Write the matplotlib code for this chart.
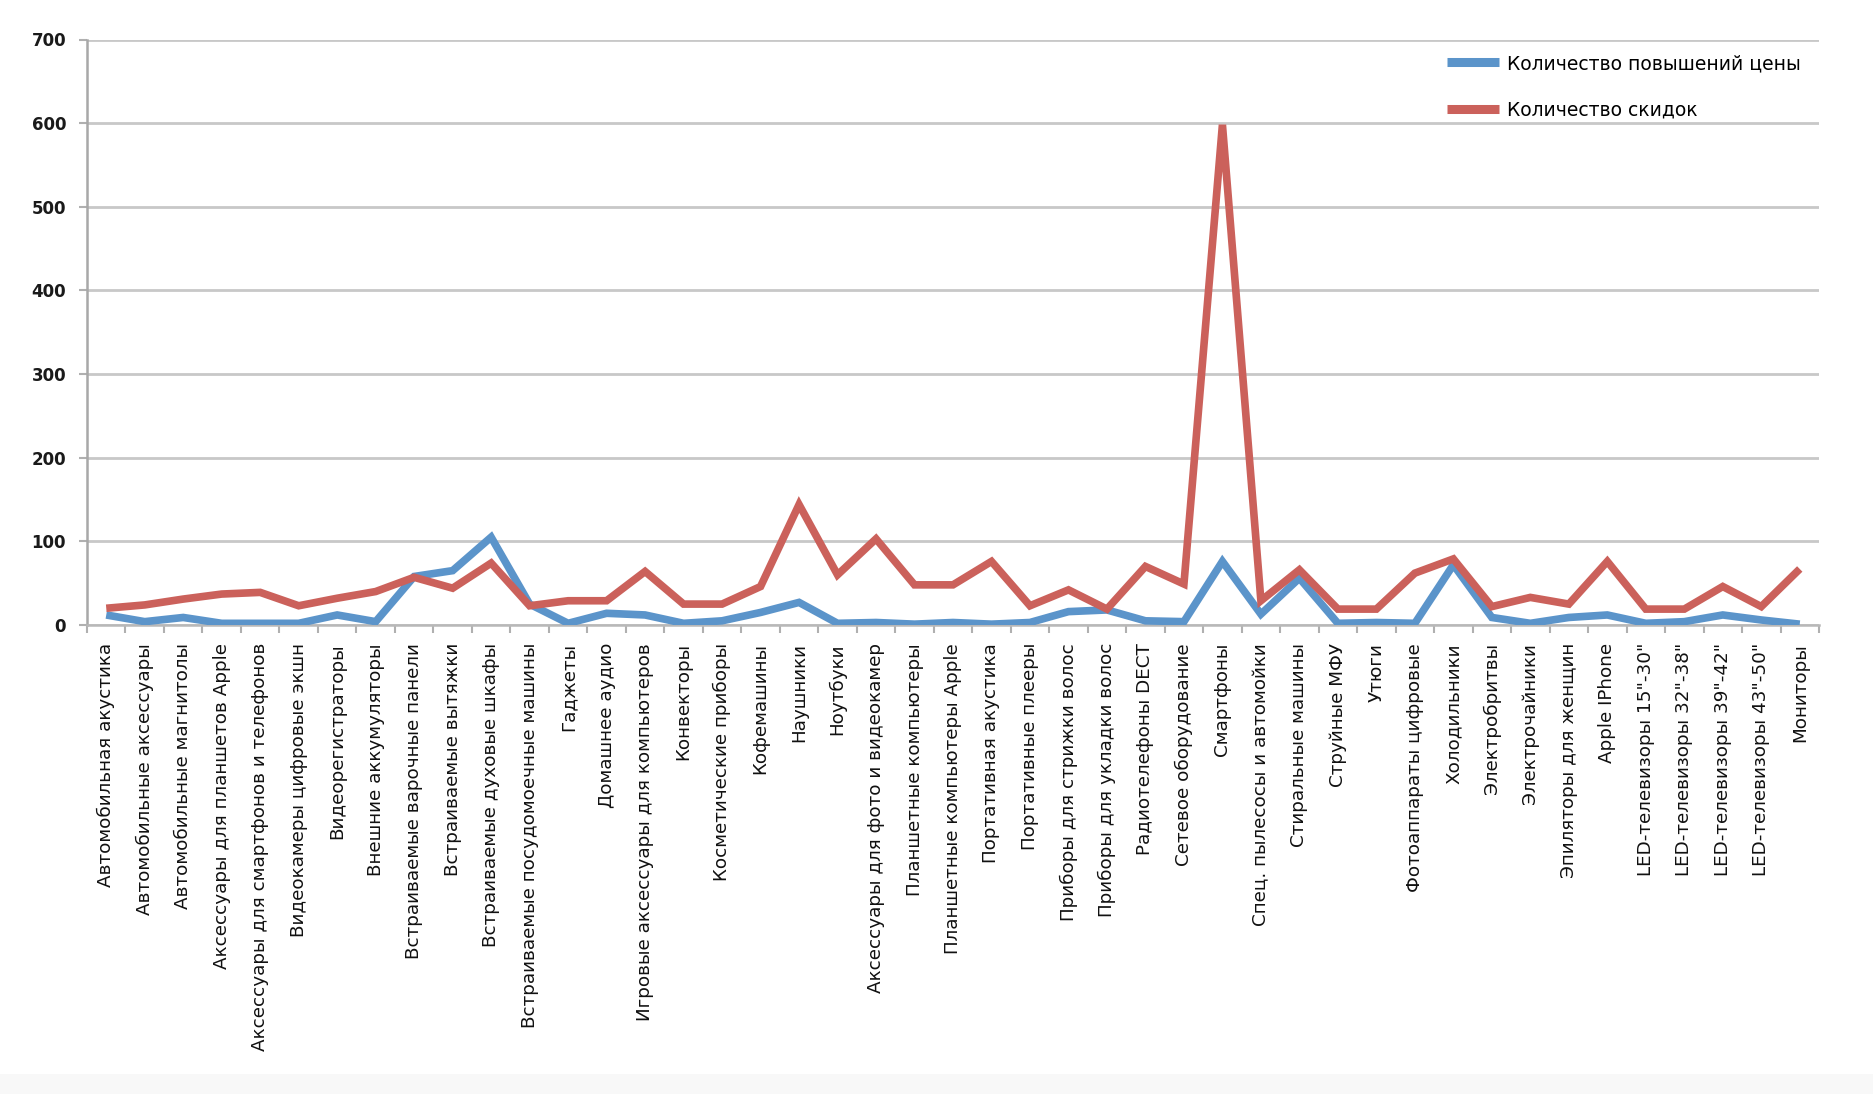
import matplotlib
matplotlib.use("Agg")
import matplotlib.pyplot as plt
from matplotlib.patches import Rectangle

categories = [
    "Автомобильная акустика",
    "Автомобильные аксессуары",
    "Автомобильные магнитолы",
    "Аксессуары для планшетов Apple",
    "Аксессуары для смартфонов и телефонов",
    "Видеокамеры цифровые экшн",
    "Видеорегистраторы",
    "Внешние аккумуляторы",
    "Встраиваемые варочные панели",
    "Встраиваемые вытяжки",
    "Встраиваемые духовые шкафы",
    "Встраиваемые посудомоечные машины",
    "Гаджеты",
    "Домашнее аудио",
    "Игровые аксессуары для компьютеров",
    "Конвекторы",
    "Косметические приборы",
    "Кофемашины",
    "Наушники",
    "Ноутбуки",
    "Аксессуары для фото и видеокамер",
    "Планшетные компьютеры",
    "Планшетные компьютеры Apple",
    "Портативная акустика",
    "Портативные плееры",
    "Приборы для стрижки волос",
    "Приборы для укладки волос",
    "Радиотелефоны DECT",
    "Сетевое оборудование",
    "Смартфоны",
    "Спец. пылесосы и автомойки",
    "Стиральные машины",
    "Струйные МФУ",
    "Утюги",
    "Фотоаппараты цифровые",
    "Холодильники",
    "Электробритвы",
    "Электрочайники",
    "Эпиляторы для женщин",
    "Apple IPhone",
    "LED-телевизоры 15\"-30\"",
    "LED-телевизоры 32\"-38\"",
    "LED-телевизоры 39\"-42\"",
    "LED-телевизоры 43\"-50\"",
    "Мониторы",
]

price_increases = [12, 4, 9, 2, 2, 2, 12, 4, 58, 65, 105, 25, 2, 14, 12, 2, 5, 15, 27, 2,
                   3, 1, 3, 1, 3, 16, 18, 5, 4, 76, 13, 56, 2, 3, 2, 72, 9, 2, 9, 12,
                   2, 4, 12, 6, 1]
discounts = [20, 24, 31, 37, 39, 23, 32, 40, 57, 44, 74, 23, 29, 29, 64, 25, 25, 46, 144, 60,
             103, 48, 48, 76, 23, 42, 19, 70, 49, 598, 29, 66, 19, 19, 62, 79, 22, 33, 25, 76,
             19, 19, 46, 22, 67]

series_labels = ["Количество повышений цены", "Количество скидок"]
y_ticks = [0, 100, 200, 300, 400, 500, 600, 700]

W, H = 1874, 1094
fig = plt.figure(figsize=(W / 100, H / 100), dpi=100)
fig.patch.set_facecolor("white")
fig.patches.append(Rectangle((0, 0), 1, 20 / H, transform=fig.transFigure,
                             facecolor="#f8f8f8", edgecolor="none", zorder=-10))

ax = fig.add_axes([87 / W, 1 - 625 / H, (1819 - 87) / W, (625 - 39.5) / H])

x = list(range(len(categories)))
blue = "#5B94CA"
red = "#CB615B"
ax.plot(x, price_increases, color=blue, lw=5.5, solid_joinstyle="miter",
        solid_capstyle="butt", label=series_labels[0], zorder=3)
ax.plot(x, discounts, color=red, lw=5.5, solid_joinstyle="miter",
        solid_capstyle="butt", label=series_labels[1], zorder=3)

ax.set_xlim(-0.5, len(categories) - 0.5)
ax.set_ylim(0, 700)
ax.set_yticks(y_ticks)
ax.set_yticklabels([str(v) for v in y_ticks], fontsize=12, fontweight="bold", color="#1a1a1a")
ax.yaxis.grid(True, color="#c8c8c8", lw=2)
ax.set_axisbelow(True)

ax.set_xticks(x)
ax.set_xticklabels(categories, rotation=90, fontsize=13.2, color="#111111")
ax.set_xticks([i - 0.5 for i in range(len(categories) + 1)], minor=True)
ax.tick_params(axis="x", which="major", length=0, pad=13)
ax.tick_params(axis="x", which="minor", length=6, width=1.5, color="#b0b0b0", direction="out")
ax.tick_params(axis="y", length=6, width=1.5, color="#b0b0b0", pad=9)

for s in ["top", "right"]:
    ax.spines[s].set_visible(False)
ax.spines["left"].set_color("#a8a8a8")
ax.spines["left"].set_linewidth(1.8)
ax.spines["bottom"].set_color("#b8b8b8")
ax.spines["bottom"].set_linewidth(1.8)

leg = ax.legend(loc="upper left", bbox_to_anchor=(1447 / W, 1 - 54 / H),
                bbox_transform=fig.transFigure, frameon=False, fontsize=13.5,
                handlelength=2.8, handletextpad=0.4, labelspacing=1.45,
                borderpad=0, borderaxespad=0)
for t in leg.get_texts():
    t.set_color("#000000")
for h in leg.get_lines():
    h.set_linewidth(6.5)

fig.savefig("out.png", dpi=100, facecolor="white")
